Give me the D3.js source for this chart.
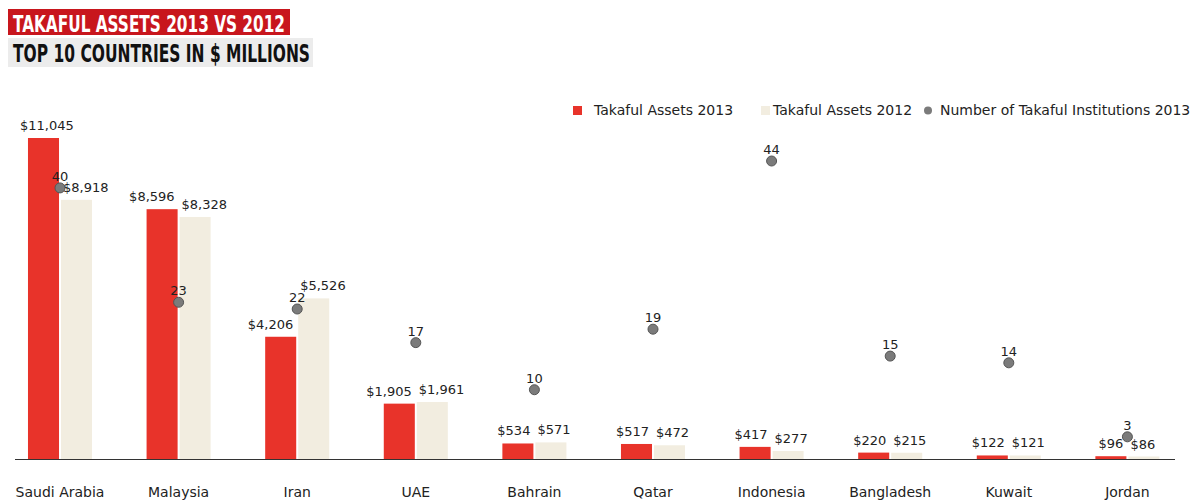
<!DOCTYPE html>
<html>
<head>
<meta charset="utf-8">
<script src="https://cdn.jsdelivr.net/npm/d3@7"></script>
<style>
  body { margin: 0; background: #fff; }
  text { font-family: "DejaVu Sans", "Open Sans", sans-serif; fill: #222; }
</style>
</head>
<body>
<script>
// data
var countries = ["Saudi Arabia", "Malaysia", "Iran", "UAE", "Bahrain", "Qatar", "Indonesia", "Bangladesh", "Kuwait", "Jordan"];
var assets2013 = [11045, 8596, 4206, 1905, 534, 517, 417, 220, 122, 96];
var assets2012 = [8918, 8328, 5526, 1961, 571, 472, 277, 215, 121, 86];
var institutions2013 = [40, 23, 22, 17, 10, 19, 44, 15, 14, 3];
var seriesNames = ["Takaful Assets 2013", "Takaful Assets 2012", "Number of Takaful Institutions 2013"];

var width = 1199, height = 501;
var red = "#e8332a", beige = "#f2ede0", dotFill = "#7b7b7b";

var svg = d3.select("body").append("svg")
    .attr("width", width)
    .attr("height", height);

// title blocks
svg.append("rect").attr("x", 8).attr("y", 9).attr("width", 282).attr("height", 26).attr("fill", "#c8161d");
svg.append("text")
    .attr("x", 13).attr("y", 32)
    .attr("textLength", 272).attr("lengthAdjust", "spacingAndGlyphs")
    .style("font-family", "'Liberation Sans Narrow', 'DejaVu Sans Condensed', sans-serif")
    .style("font-weight", "bold").style("font-size", "23px").style("fill", "#fff")
    .text("TAKAFUL ASSETS 2013 VS 2012");

svg.append("rect").attr("x", 8).attr("y", 38).attr("width", 305).attr("height", 29).attr("fill", "#ececec");
svg.append("text")
    .attr("x", 13).attr("y", 62)
    .attr("textLength", 297).attr("lengthAdjust", "spacingAndGlyphs")
    .style("font-family", "'Liberation Sans Narrow', 'DejaVu Sans Condensed', sans-serif")
    .style("font-weight", "bold").style("font-size", "24px").style("fill", "#111")
    .text("TOP 10 COUNTRIES IN $ MILLIONS");

// scales
var x0 = d3.scaleBand().domain(countries).range([0.7, 1186.7]).paddingInner(0.46).paddingOuter(0.23);
var x1 = d3.scaleBand().domain(["2013", "2012"]).range([0, x0.bandwidth()]).paddingInner(0.06);
var y = d3.scaleLinear().domain([0, 11045]).range([459, 138]);
var yDot = d3.scaleLinear().domain([0, 44]).range([457, 161]);

var rows = countries.map(function(c, i) {
  return {country: c, values: [{key: "2013", v: assets2013[i]}, {key: "2012", v: assets2012[i]}], n: institutions2013[i]};
});

var group = svg.selectAll(".country")
  .data(rows)
  .enter().append("g")
    .attr("class", "country")
    .attr("transform", function(d) { return "translate(" + x0(d.country) + ",0)"; });

group.selectAll("rect")
  .data(function(d) { return d.values; })
  .enter().append("rect")
    .attr("x", function(d) { return x1(d.key); })
    .attr("y", function(d) { return y(d.v); })
    .attr("width", x1.bandwidth())
    .attr("height", function(d) { return y(0) - y(d.v); })
    .attr("fill", function(d) { return d.key == "2013" ? red : beige; });

// value labels: 2013 ones end at the red bar's right edge, 2012 ones start at the beige bar's left edge
group.selectAll(".val")
  .data(function(d) { return d.values; })
  .enter().append("text")
    .attr("class", "val")
    .attr("y", function(d) { return y(d.v) - 8; })
    .style("font-size", "13px")
    .text(function(d) { return "$" + d3.format(",")(d.v); })
    .each(function(d) {
      var t = d3.select(this);
      if (d.key == "2013") {
        var gx = x0(this.parentNode.__data__.country);
        var len = this.getComputedTextLength();
        var end = x1(d.key) + x1.bandwidth() - 3;
        // keep wide labels from running off the left edge
        if (gx + end - len < 20) end = 20 - gx + len;
        t.attr("x", end).attr("text-anchor", "end");
      } else {
        t.attr("x", x1(d.key) + 2).attr("text-anchor", "start");
      }
    });

// baseline
svg.append("line")
    .attr("x1", 15).attr("x2", 1175)
    .attr("y1", y(0) + 0.5).attr("y2", y(0) + 0.5)
    .attr("stroke", "#333").attr("stroke-width", 1.2);

// institutions dots
group.append("circle")
    .attr("cx", x0.bandwidth() / 2)
    .attr("cy", function(d) { return yDot(d.n); })
    .attr("r", 5)
    .attr("fill", dotFill)
    .attr("stroke", "#555");

group.append("text")
    .attr("x", x0.bandwidth() / 2)
    .attr("y", function(d) { return yDot(d.n) - 7; })
    .attr("text-anchor", "middle")
    .style("font-size", "13px")
    .text(function(d) { return d.n; });

// country axis
var xAxis = svg.append("g")
    .attr("transform", "translate(0," + 484 + ")")
    .call(d3.axisBottom(x0).tickSize(0).tickPadding(0));
xAxis.select(".domain").remove();
xAxis.selectAll("text")
    .attr("dy", "0.9em")
    .style("font-family", "'DejaVu Sans', 'Open Sans', sans-serif")
    .style("font-size", "14px")
    .style("fill", "#222");

// legend
var legend = svg.append("g").attr("class", "legend");
legend.append("rect").attr("x", 573).attr("y", 106).attr("width", 9).attr("height", 9).attr("fill", red);
legend.append("text").attr("x", 594).attr("y", 115).style("font-size", "14px").text(seriesNames[0]);
legend.append("rect").attr("x", 761).attr("y", 106).attr("width", 9).attr("height", 9).attr("fill", beige);
legend.append("text").attr("x", 773).attr("y", 115).style("font-size", "14px").text(seriesNames[1]);
legend.append("circle").attr("cx", 928).attr("cy", 110.5).attr("r", 4).attr("fill", dotFill);
legend.append("text").attr("x", 940).attr("y", 115).style("font-size", "14px").text(seriesNames[2]);
</script>
</body>
</html>
